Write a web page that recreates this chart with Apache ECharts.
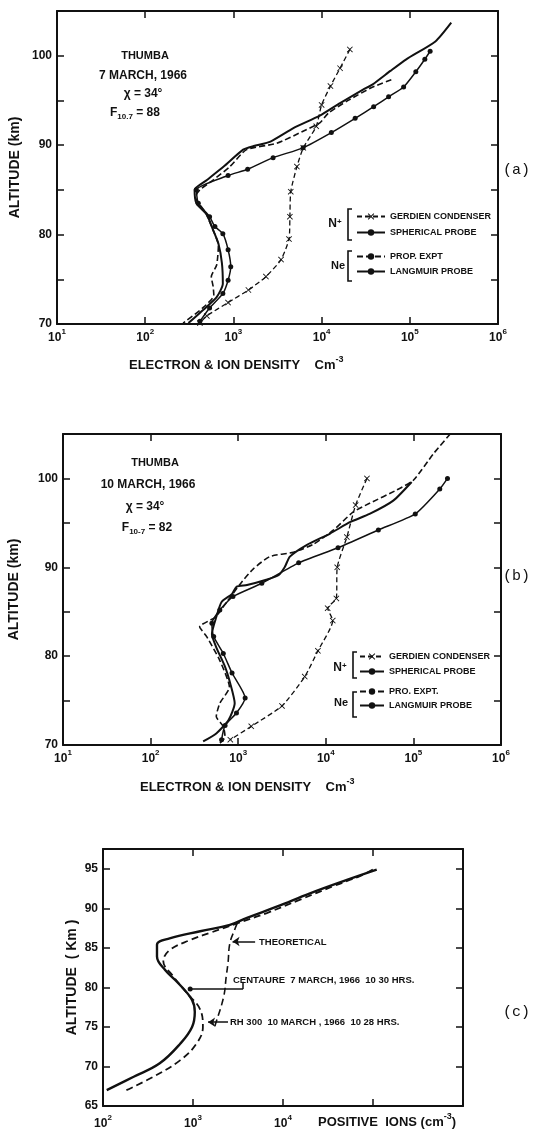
<!DOCTYPE html>
<html>
<head>
<meta charset="utf-8">
<script src="https://cdn.jsdelivr.net/npm/echarts@6/dist/echarts.min.js"></script>
<style>
html,body{margin:0;padding:0;background:#fff;}
#chart{width:554px;height:1133px;}
</style>
</head>
<body>
<div id="chart"></div>
<script>
// (a) 7 March 1966 : [density cm-3, altitude km]
var gerdienA = [[20900,100.7],[16200,98.6],[12600,96.6],[10000,94.5],[8700,92.1],[6200,89.7],[5250,87.6],[4470,84.8],[4370,82.0],[4270,79.5],[3470,77.2],[2340,75.3],[1480,73.8],[870,72.4],[500,70.9],[417,70.1]];
var sphericalA = [[170000,100.5],[148000,99.6],[117000,98.2],[85100,96.5],[57500,95.4],[38900,94.3],[24000,93.0],[12900,91.4],[6170,89.7],[2820,88.6],[1450,87.3],[870,86.6],[380,85.0],[400,83.5],[537,82.0],[617,80.9],[759,80.1],[871,78.3],[933,76.4],[871,74.9],[759,73.4],[537,71.8],[417,70.3]];
var langmuirA = [[295000,103.7],[195000,101.6],[91200,99.6],[60300,98.3],[38000,96.8],[29500,96.2],[16200,94.7],[9550,93.3],[4790,91.9],[2630,90.4],[1700,89.9],[1290,89.5],[776,87.6],[501,86.1],[363,85.0],[380,83.5],[501,82.2],[589,80.5],[676,79.0],[741,76.8],[759,74.5],[646,73.0],[457,71.6],[309,70.1]];
var propA = [[61700,97.3],[38000,96.5],[20000,95.0],[12000,93.6],[9550,92.5],[6000,91.5],[3090,90.2],[1410,89.5],[912,87.6],[589,86.1],[417,85.0],[370,84.2],[480,82.5],[589,80.5],[676,78.8],[646,76.6],[562,75.3],[589,74.2],[600,73.2],[450,71.8],[269,70.1]];

// (b) 10 March 1966
var gerdienB = [[29500,100.0],[21900,97.0],[17400,93.4],[13500,90.0],[13200,86.5],[10500,85.4],[12000,84.0],[8130,80.6],[5750,77.7],[3160,74.4],[1410,72.1],[813,70.6]];
var sphericalB = [[245000,100.0],[200000,98.8],[105000,96.0],[39800,94.2],[13800,92.2],[4900,90.5],[1860,88.2],[871,86.7],[617,85.2],[501,83.7],[525,82.2],[676,80.3],[851,78.1],[1200,75.3],[955,73.6],[708,72.2],[646,70.6]];
var langmuirB = [[95500,99.6],[58900,97.5],[31600,96.0],[19100,95.1],[11200,93.8],[6030,92.5],[3890,91.2],[3390,90.0],[2880,89.1],[2090,88.6],[1260,88.0],[955,87.8],[851,87.0],[646,86.1],[562,84.4],[501,82.5],[562,81.0],[708,78.8],[813,76.9],[912,74.7],[776,72.8],[562,71.3],[398,70.4]];
var propB = [[263000,105.0],[170000,102.8],[100000,99.8],[64600,98.7],[31600,97.2],[20400,96.2],[12300,94.2],[7240,92.6],[4270,91.7],[2290,91.2],[1480,89.8],[1050,88.1],[741,86.1],[550,84.4],[363,83.3],[437,82.2],[617,79.5],[794,76.5],[617,74.7],[562,73.2],[676,72.1],[708,70.9],[617,70.2]];

// (c) positive ions
var centaureC = [[110,67.0],[219,68.7],[427,70.4],[724,72.9],[977,75.0],[1047,76.9],[977,78.4],[692,80.5],[490,82.2],[398,83.9],[398,85.4],[550,86.2],[1200,87.1],[2570,87.9],[3980,88.8],[8510,90.2],[19950,91.9],[51300,93.6],[110000,94.9]];
var rh300C = [[182,67.0],[363,68.7],[724,70.8],[1096,72.9],[1288,75.0],[1202,77.2],[851,79.3],[603,81.4],[468,83.3],[550,84.7],[933,86.0],[1549,86.9],[3090,88.1],[6607,89.4],[15500,91.1],[36300,92.8],[72400,94.1],[100000,94.9]];
var theoryC = [[3090,88.1],[2950,87.5],[2570,85.6],[2450,83.1],[2340,81.4],[2190,78.8],[1740,75.0],[1700,74.6]];

var altRangeAB = [70, 105];
var altRangeC = [65, 97.5];
var densRangeAB = [10, 1e6];
var densRangeC = [100, 1e6];

var INK = '#111';
var FONT = 'Liberation Sans';
var XSYM = 'path://M0,1L1,0L5,4L9,0L10,1L6,5L10,9L9,10L5,6L1,10L0,9L4,5Z';

var chart = echarts.init(document.getElementById('chart'));

var grids = [
  {left: 57, top: 11, width: 441, height: 313, containLabel: false, outerBoundsMode: 'none'},
  {left: 63, top: 434, width: 438, height: 311, containLabel: false, outerBoundsMode: 'none'},
  {left: 103, top: 849, width: 360, height: 257, containLabel: false, outerBoundsMode: 'none'}
];

var supRich = {
  b: {fontSize: 12, fontWeight: 'bold', fontFamily: FONT, color: INK, lineHeight: 20},
  s: {fontSize: 8, fontWeight: 'bold', fontFamily: FONT, color: INK, verticalAlign: 'top', lineHeight: 9}
};

function axisLine() { return {onZero: false, lineStyle: {color: INK, width: 2}}; }
function axisTick() { return {inside: true, length: 7, lineStyle: {color: INK, width: 1.5}}; }

var xAxis = [], yAxis = [];
function addAxes(g, dens, alt, maxExp, labelEvery, yName, nameGap, xMargin) {
  xAxis.push({type: 'log', logBase: 10, gridIndex: g, position: 'bottom', min: dens[0], max: dens[1],
    axisLine: axisLine(), axisTick: axisTick(), splitLine: {show: false}, minorTick: {show: false},
    axisLabel: {margin: xMargin, showMinLabel: true, showMaxLabel: true, rich: supRich,
      formatter: function (v) { var e = Math.round(Math.log10(v)); return e > maxExp ? '' : '{b|10}{s|' + e + '}'; }}});
  xAxis.push({type: 'log', logBase: 10, gridIndex: g, position: 'top', min: dens[0], max: dens[1],
    axisLine: axisLine(), axisTick: axisTick(), splitLine: {show: false}, axisLabel: {show: false}});
  yAxis.push({type: 'value', gridIndex: g, position: 'left', min: alt[0], max: alt[1], interval: 5,
    axisLine: axisLine(), axisTick: axisTick(), splitLine: {show: false},
    axisLabel: {margin: 5, color: INK, fontSize: 12, fontWeight: 'bold', fontFamily: FONT,
      formatter: function (v) { return (v % labelEvery === 0 && v < alt[1]) ? String(v) : ''; }},
    name: yName, nameLocation: 'middle', nameGap: nameGap, nameRotate: 90, nameMoveOverlap: false,
    nameTextStyle: {color: INK, fontSize: 14, fontWeight: 'bold', fontFamily: FONT}});
  yAxis.push({type: 'value', gridIndex: g, position: 'right', min: alt[0], max: alt[1], interval: 5,
    axisLine: axisLine(), axisTick: axisTick(), splitLine: {show: false}, axisLabel: {show: false}});
}
addAxes(0, densRangeAB, altRangeAB, 6, 10, 'ALTITUDE (km)', 35, 4);
addAxes(1, densRangeAB, altRangeAB, 6, 10, 'ALTITUDE (km)', 42, 4);
addAxes(2, densRangeC, altRangeC, 4, 5, 'ALTITUDE  ( Km )', 24, 8);

function lineSeries(name, g, data, kind) {
  var s = {name: name, type: 'line', xAxisIndex: 2 * g, yAxisIndex: 2 * g, data: data,
    smooth: 0.2, animation: false, showSymbol: false, symbol: 'none',
    itemStyle: {color: INK}, lineStyle: {color: INK, width: 2}};
  if (kind === 'x') { s.symbol = XSYM; s.showSymbol = true; s.symbolSize = 6; s.lineStyle = {color: INK, width: 1.3, type: [5, 3]}; }
  if (kind === 'dot') { s.symbol = 'circle'; s.showSymbol = true; s.symbolSize = 5; s.lineStyle = {color: INK, width: 1.5}; }
  if (kind === 'dash') { s.lineStyle = {color: INK, width: 1.6, type: [6, 3]}; }
  return s;
}

var series = [
  lineSeries('GERDIEN CONDENSER', 0, gerdienA, 'x'),
  lineSeries('SPHERICAL PROBE', 0, sphericalA, 'dot'),
  lineSeries('PROP. EXPT', 0, propA, 'dash'),
  lineSeries('LANGMUIR PROBE', 0, langmuirA, 'solid'),
  lineSeries('GERDIEN CONDENSER', 1, gerdienB, 'x'),
  lineSeries('SPHERICAL PROBE', 1, sphericalB, 'dot'),
  lineSeries('PRO. EXPT.', 1, propB, 'dash'),
  lineSeries('LANGMUIR PROBE', 1, langmuirB, 'solid')
];
var cSolid = lineSeries('CENTAURE', 2, centaureC, 'solid');
cSolid.smooth = 0.4; cSolid.lineStyle.width = 2.4;
var cDash = lineSeries('RH 300', 2, rh300C, 'dash');
cDash.smooth = 0.4; cDash.lineStyle = {color: INK, width: 1.8, type: [7, 4]};
var cTheory = lineSeries('THEORETICAL', 2, theoryC, 'dash');
cTheory.smooth = 0.4; cTheory.lineStyle = {color: INK, width: 1.6, type: [7, 4]};
cTheory.markLine = {silent: true, animation: false, symbolSize: 7, label: {show: false},
  lineStyle: {color: INK, width: 1.5, type: 'solid'},
  data: [
    [{coord: [4900, 85.8], symbol: 'none'}, {coord: [2750, 85.8], symbol: 'arrow'}],
    [{coord: [930, 79.8], symbol: 'circle', symbolSize: 5}, {coord: [3600, 79.8], symbol: 'none'}],
    [{coord: [3600, 79.8], symbol: 'none'}, {coord: [3600, 80.7], symbol: 'none'}],
    [{coord: [2450, 75.6], symbol: 'none'}, {coord: [1470, 75.6], symbol: 'arrow'}]
  ]};
series.push(cSolid, cDash, cTheory);

function legend(left, top, gap, width, names) {
  return {left: left, top: top, orient: 'vertical', itemGap: gap, itemWidth: width, itemHeight: 8,
    selectedMode: false, padding: 0, data: names,
    textStyle: {color: INK, fontSize: 9, fontWeight: 'bold', fontFamily: FONT}};
}

var tStyle = function (size) { return 'bold ' + size + 'px "' + FONT + '"'; };
function txt(x, y, text, size, align, rich) {
  var st = {text: text, x: x, y: y, font: tStyle(size), fill: INK, align: align || 'center', verticalAlign: 'middle'};
  if (rich) st.rich = rich;
  return {type: 'text', silent: true, style: st};
}
var subRich = {
  m: {fontSize: 12, fontWeight: 'bold', fontFamily: FONT, color: INK},
  d: {fontSize: 8, fontWeight: 'bold', fontFamily: FONT, color: INK, verticalAlign: 'bottom', padding: [7, 0, 0, 0]},
  u: {fontSize: 8, fontWeight: 'bold', fontFamily: FONT, color: INK, verticalAlign: 'top', lineHeight: 8},
  t: {fontSize: 13, fontWeight: 'bold', fontFamily: FONT, color: INK, lineHeight: 20},
  tu: {fontSize: 9, fontWeight: 'bold', fontFamily: FONT, color: INK, verticalAlign: 'top', lineHeight: 10}
};
function bracket(x, y0, y1) {
  return {type: 'polyline', silent: true, shape: {points: [[x + 4, y0], [x, y0], [x, y1], [x + 4, y1]]},
    style: {stroke: INK, lineWidth: 1.6, fill: null}};
}
var mono = function (x, y, t) {
  return {type: 'text', silent: true, style: {text: t, x: x, y: y, font: '15px "Liberation Mono"', fill: INK, align: 'left', verticalAlign: 'middle'}};
};

var graphic = [
  txt(145, 56, 'THUMBA', 11), txt(143, 76, '7 MARCH, 1966', 12), txt(143, 94, '\u03C7 = 34\u00B0', 12),
  txt(135, 113, '{m|F}{d|10.7}{m| = 88}', 12, 'center', subRich),
  txt(155, 463, 'THUMBA', 11), txt(148, 485, '10 MARCH, 1966', 12), txt(145, 507, '\u03C7 = 34\u00B0', 12),
  txt(147, 528, '{m|F}{d|10-7}{m| = 82}', 12, 'center', subRich),
  txt(129, 365, '{t|ELECTRON & ION DENSITY}{t|    Cm}{tu|-3}', 13, 'left', subRich),
  txt(140, 787, '{t|ELECTRON & ION DENSITY}{t|    Cm}{tu|-3}', 13, 'left', subRich),
  txt(318, 1122, '{t|POSITIVE  IONS (cm}{tu|-3}{t|)}', 13, 'left', subRich),
  txt(335, 224, '{m|N}{u|+}', 12, 'center', subRich), bracket(348, 209, 240),
  txt(338, 266, 'Ne', 11), bracket(348, 251, 281),
  txt(340, 668, '{m|N}{u|+}', 12, 'center', subRich), bracket(353, 652, 678),
  txt(341, 703, 'Ne', 11), bracket(353, 692, 717),
  txt(259, 942, 'THEORETICAL', 9.5, 'left'),
  txt(233, 980, 'CENTAURE  7 MARCH, 1966  10 30 HRS.', 9.5, 'left'),
  txt(230, 1022, 'RH 300  10 MARCH , 1966  10 28 HRS.', 9.5, 'left'),
  mono(503, 170, '(a)'), mono(503, 576, '(b)'), mono(503, 1012, '(c)')
];

chart.setOption({
  animation: false,
  backgroundColor: '#fff',
  grid: grids,
  xAxis: xAxis,
  yAxis: yAxis,
  legend: [
    legend(356, 212, 7, 28, ['GERDIEN CONDENSER', 'SPHERICAL PROBE']),
    legend(356, 252, 6, 28, ['PROP. EXPT', 'LANGMUIR PROBE']),
    legend(359, 652, 6, 24, ['GERDIEN CONDENSER', 'SPHERICAL PROBE']),
    legend(359, 687, 5, 24, ['PRO. EXPT.', 'LANGMUIR PROBE'])
  ],
  series: series,
  graphic: graphic
});
</script>
</body>
</html>
